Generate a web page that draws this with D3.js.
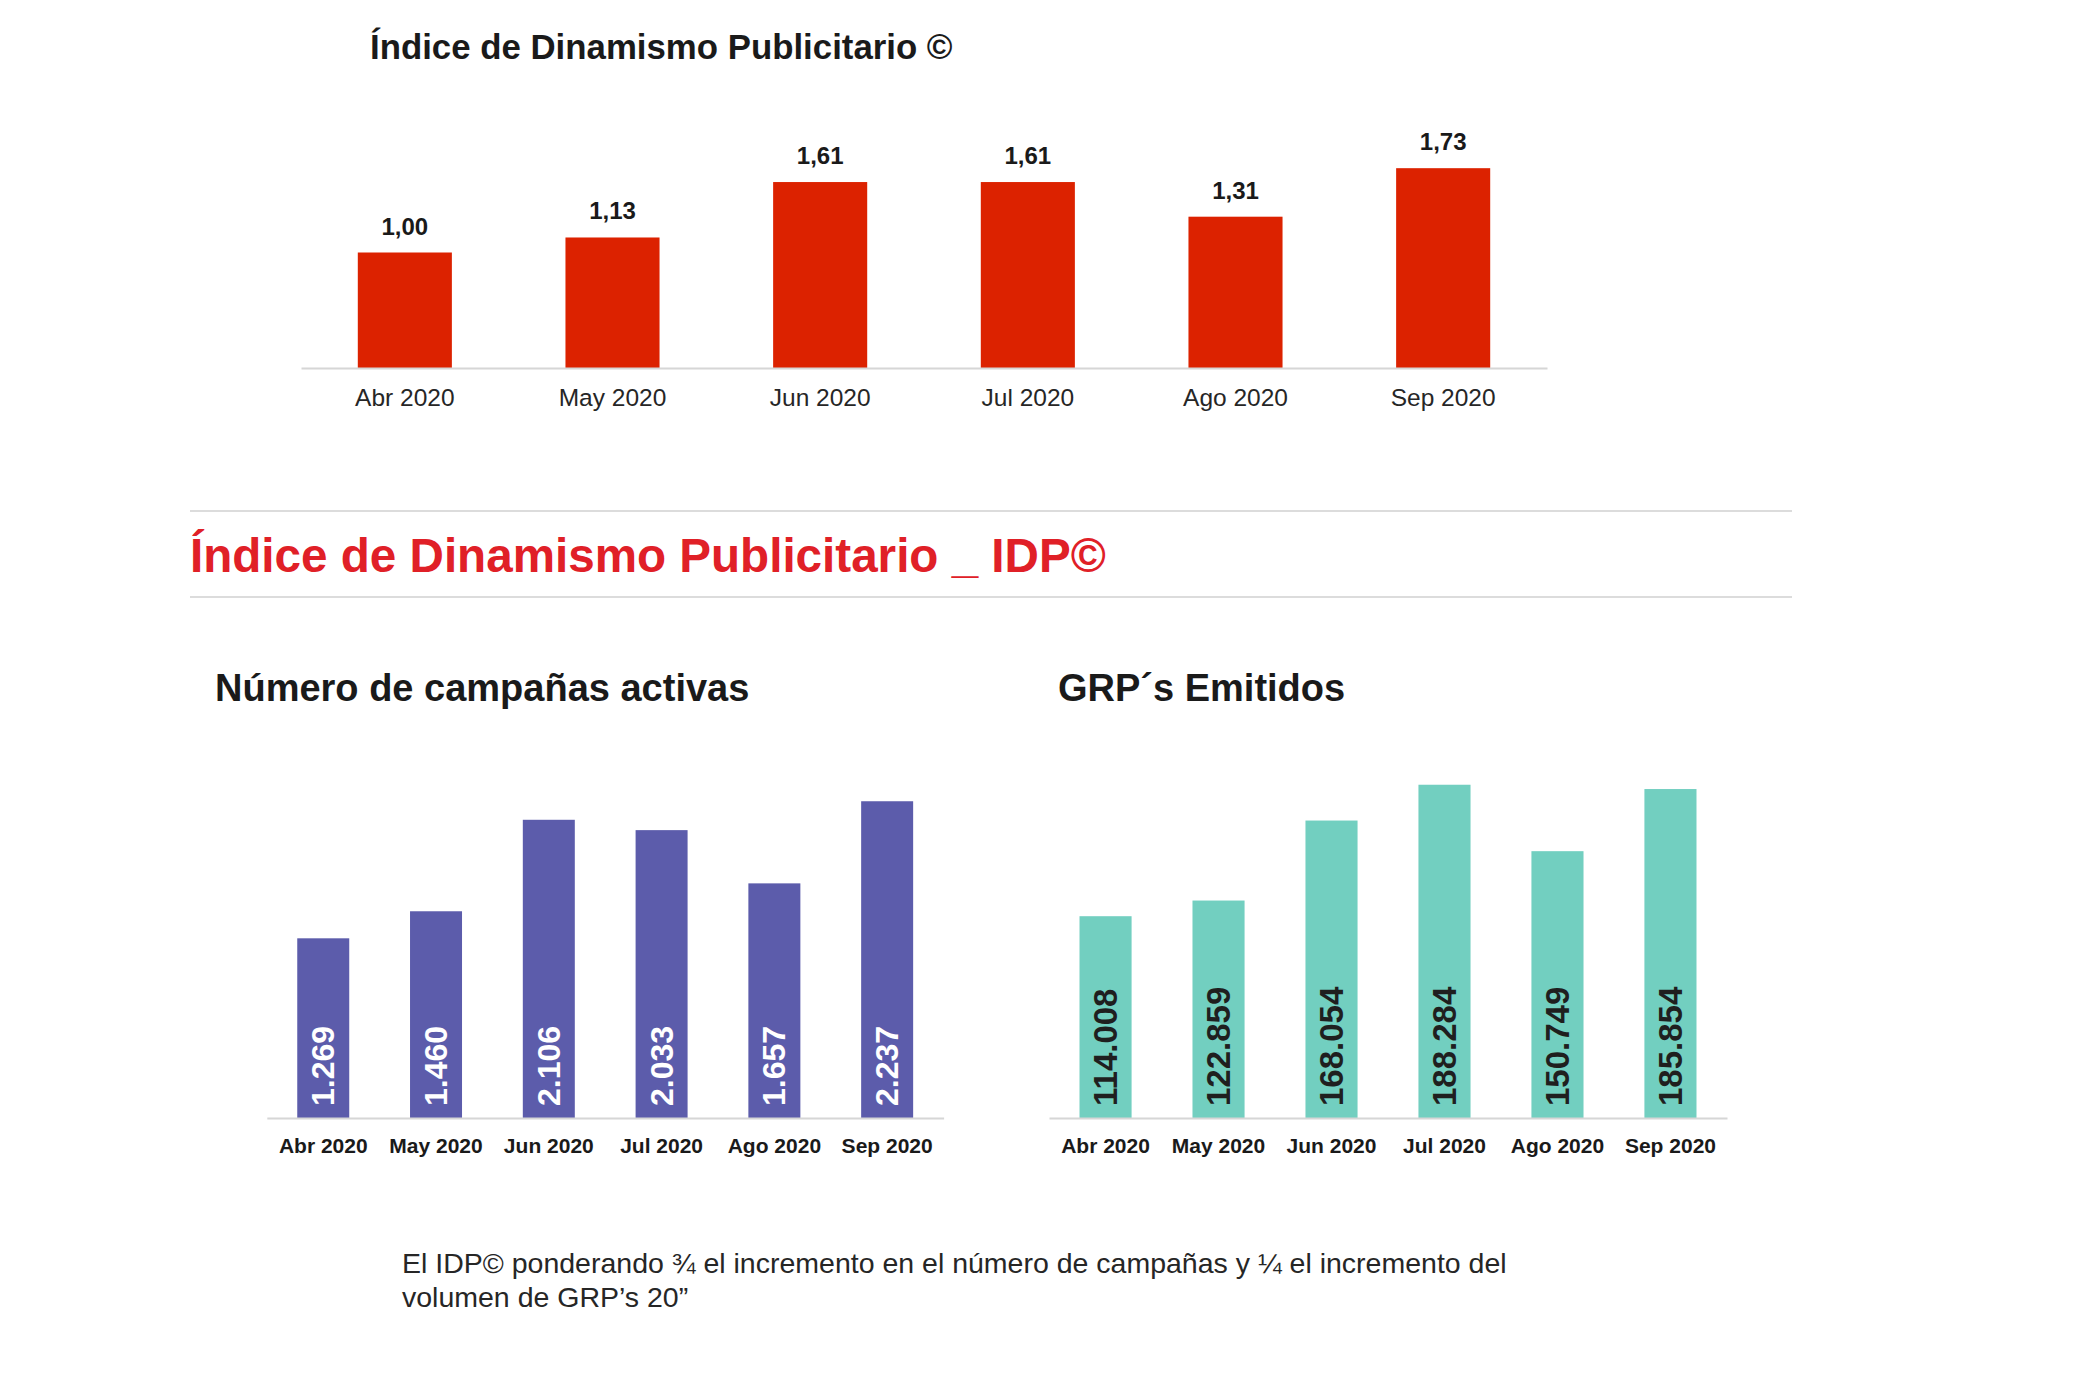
<!DOCTYPE html>
<html>
<head>
<meta charset="utf-8">
<script src="https://cdn.jsdelivr.net/npm/d3@7"></script>
<style>
  html, body { margin: 0; padding: 0; background: #ffffff; }
  svg { display: block; font-family: "Liberation Sans", Arial, Helvetica, sans-serif; }
</style>
</head>
<body>
<script>
// ---------- DATA ----------
const months = ["Abr 2020", "May 2020", "Jun 2020", "Jul 2020", "Ago 2020", "Sep 2020"];
const idpValues = [1.00, 1.13, 1.61, 1.61, 1.31, 1.73];
const idpLabels = ["1,00", "1,13", "1,61", "1,61", "1,31", "1,73"];
const campaignValues = [1269, 1460, 2106, 2033, 1657, 2237];
const campaignLabels = ["1.269", "1.460", "2.106", "2.033", "1.657", "2.237"];
const grpValues = [114008, 122859, 168054, 188284, 150749, 185854];
const grpLabels = ["114.008", "122.859", "168.054", "188.284", "150.749", "185.854"];

const topTitle = "Índice de Dinamismo Publicitario ©";
const sectionTitle = "Índice de Dinamismo Publicitario _ IDP©";
const leftTitle = "Número de campañas activas";
const rightTitle = "GRP´s Emitidos";
const footLines = [
  "El IDP© ponderando ¾ el incremento en el número de campañas y ¼ el incremento del",
  "volumen de GRP’s 20”"
];

// ---------- LAYOUT ----------
const W = 2081, H = 1388;
const svg = d3.select("body").append("svg").attr("width", W).attr("height", H);
svg.append("rect").attr("width", W).attr("height", H).attr("fill", "#ffffff");

const axisGray = "#d6d6d6";

// ---------- TOP CHART ----------
svg.append("text").attr("x", 370).attr("y", 59)
  .attr("font-size", 34.8).attr("font-weight", "bold").attr("fill", "#1a1a1a")
  .text(topTitle);

const topBase = 368;
const xTop = d3.scaleBand().domain(months).range([301, 1547]).paddingInner(0.547).paddingOuter(0.2735);
const yTop = d3.scaleLinear().domain([0, 2]).range([topBase, topBase - 231]);

svg.append("g").selectAll("rect").data(months).join("rect")
  .attr("x", d => xTop(d)).attr("width", xTop.bandwidth())
  .attr("y", (d, i) => yTop(idpValues[i]))
  .attr("height", (d, i) => topBase - yTop(idpValues[i]))
  .attr("fill", "#dc2200");

svg.append("g").selectAll("text").data(months).join("text")
  .attr("x", d => xTop(d) + xTop.bandwidth() / 2)
  .attr("y", (d, i) => yTop(idpValues[i]) - 18)
  .attr("text-anchor", "middle").attr("font-size", 24).attr("font-weight", "bold").attr("fill", "#1a1a1a")
  .text((d, i) => idpLabels[i]);

const axTop = svg.append("g").attr("transform", `translate(0,${topBase})`)
  .call(d3.axisBottom(xTop).tickSize(0).tickSizeOuter(0).tickPadding(21));
axTop.select(".domain").attr("stroke", axisGray).attr("stroke-width", 2);
axTop.selectAll("text").attr("font-size", 24.5).attr("fill", "#262626")
  .attr("font-family", "'Liberation Sans', Arial, sans-serif");

// ---------- SECTION HEADER ----------
svg.append("line").attr("x1", 190).attr("x2", 1792).attr("y1", 511).attr("y2", 511)
  .attr("stroke", "#dcdcdc").attr("stroke-width", 2);
svg.append("line").attr("x1", 190).attr("x2", 1792).attr("y1", 597).attr("y2", 597)
  .attr("stroke", "#dcdcdc").attr("stroke-width", 2);
svg.append("text").attr("x", 190).attr("y", 572)
  .attr("font-size", 47.6).attr("font-weight", "bold").attr("fill", "#e02027")
  .text(sectionTitle);

// ---------- BOTTOM CHARTS ----------
const botBase = 1118;
function barChart(opts) {
  svg.append("text").attr("x", opts.titleX).attr("y", 701)
    .attr("font-size", 38).attr("font-weight", "bold").attr("fill", "#1a1a1a")
    .text(opts.title);

  const x = d3.scaleBand().domain(months).range(opts.range).paddingInner(0.539).paddingOuter(0.27);
  const y = d3.scaleLinear().domain([0, opts.max]).range([botBase, botBase - 354]);

  svg.append("g").selectAll("rect").data(months).join("rect")
    .attr("x", d => x(d)).attr("width", x.bandwidth())
    .attr("y", (d, i) => y(opts.values[i]))
    .attr("height", (d, i) => botBase - y(opts.values[i]))
    .attr("fill", opts.color);

  svg.append("g").selectAll("text").data(months).join("text")
    .attr("transform", d => `translate(${x(d) + x.bandwidth() / 2},${botBase - 12}) rotate(-90)`)
    .attr("dominant-baseline", "central")
    .attr("text-anchor", "start").attr("font-size", opts.labelSize).attr("font-weight", "bold")
    .attr("fill", opts.labelColor)
    .text((d, i) => opts.labels[i]);

  const ax = svg.append("g").attr("transform", `translate(0,${botBase})`)
    .call(d3.axisBottom(x).tickSize(0).tickSizeOuter(0).tickPadding(20));
  ax.select(".domain").attr("stroke", axisGray).attr("stroke-width", 2);
  ax.selectAll("text").attr("font-size", 21).attr("font-weight", "bold").attr("fill", "#1a1a1a")
    .attr("font-family", "'Liberation Sans', Arial, sans-serif");
}

barChart({ title: leftTitle, titleX: 215, range: [266.8, 943.6], max: 2500,
  values: campaignValues, labels: campaignLabels, color: "#5c5cab", labelColor: "#ffffff", labelSize: 32 });
barChart({ title: rightTitle, titleX: 1058, range: [1049, 1727], max: 200000,
  values: grpValues, labels: grpLabels, color: "#72cfc0", labelColor: "#1f1f1f", labelSize: 33 });

// ---------- FOOTNOTE ----------
svg.append("g").selectAll("text").data(footLines).join("text")
  .attr("x", 402).attr("y", (d, i) => 1273 + i * 34)
  .attr("font-size", 28.5).attr("fill", "#262626")
  .text(d => d);
</script>
</body>
</html>
